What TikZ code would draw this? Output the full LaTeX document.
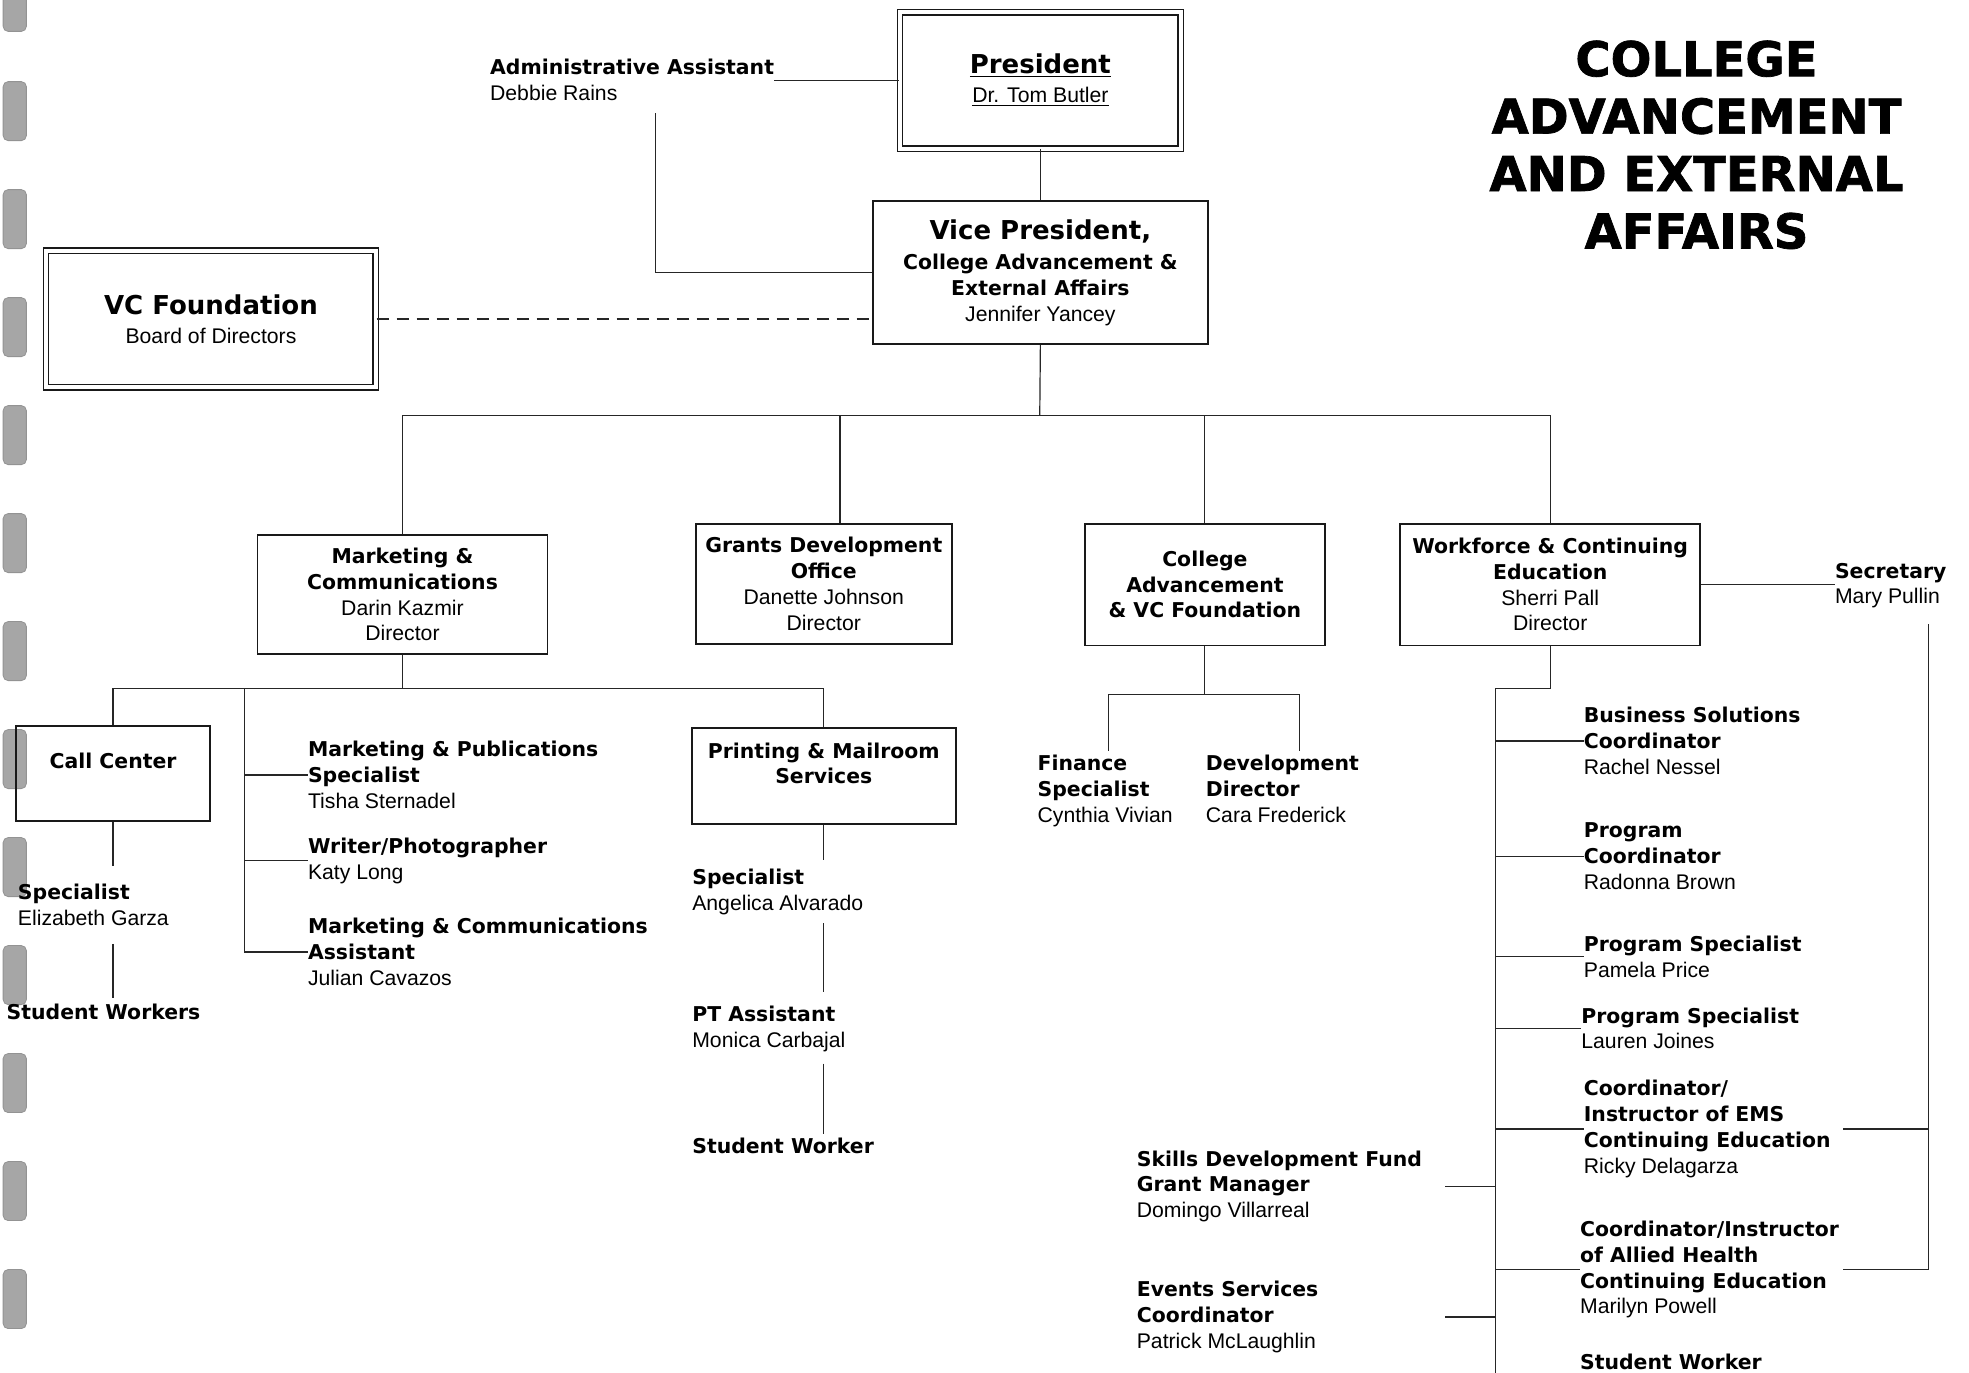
\documentclass[tikz,border=0pt]{standalone}
\usepackage{fontspec}
\setmainfont{Liberation Sans}
\newfontfamily\hdfont{DejaVu Sans}
\newfontfamily\titlefont{DejaVu Sans}[BoldFeatures={FakeBold=1.5}]
\usetikzlibrary{calc}
\newcommand\bl[1]{{\hdfont\bfseries\fontsize{10.2}{12.9}\selectfont #1}}
\newcommand\U{0.62785pt}
\tikzset{
  lbl/.style={inner sep=0pt, anchor=north west, align=left, font=\fontsize{10.6}{12.9}\selectfont},
  box/.style={draw=black!90, line width=0.9pt, inner sep=0pt, align=center, font=\fontsize{10.6}{12.9}\selectfont},
  dbox/.style={box, double, double distance=2pt, line width=0.7pt},
  sz/.style 2 args={minimum width=#1*\U, minimum height=#2*\U},
  conn/.style={draw=black!85, line width=0.6pt},
  hole/.style={fill=gray!70, draw=gray!85, line width=0.4pt, rounded corners=2.5pt},
}
\begin{document}
\begin{tikzpicture}[x=0.62785pt, y=-0.62785pt]
\fill[white] (0,0) rectangle (1568,1093);
\useasboundingbox (0,0) rectangle (1568,1093);

% binder holes
\filldraw[hole] (2.5,-6) rectangle (21,25);
\foreach \k in {0,...,11} {
  \filldraw[hole] (2.5,{65+86*\k}) rectangle (21,{112+86*\k});
}

% title
\node[inner sep=0pt, anchor=north, align=center, font=\titlefont\bfseries\fontsize{24}{28.7}\selectfont] (title) at (1351,32)
  {COLLEGE\\ADVANCEMENT\\AND EXTERNAL\\AFFAIRS};

% boxes
\node[dbox, sz={223.6}{108.6}] (pres) at (828.5,64)
  {\underline{{\hdfont\bfseries\fontsize{13}{12.9}\selectfont President}}\\[1.6pt]\underline{Dr. Tom Butler}};
\node[box, line width=1.1pt, sz={267}{114}] (vp) at (828.5,217)
  {{\hdfont\bfseries\fontsize{13}{12.9}\selectfont Vice President,}\\[2.2pt]\bl{College Advancement \&}\\\bl{External Affairs}\\Jennifer Yancey};
\node[dbox, sz={262.6}{108.6}] (vcf) at (168,254)
  {{\hdfont\bfseries\fontsize{13}{12.9}\selectfont VC Foundation}\\[1.6pt]Board of Directors};
\node[box, sz={231}{95}] (mkt) at (320.5,473.5)
  {\bl{Marketing \&}\\\bl{Communications}\\Darin Kazmir\\Director};
\node[box, sz={204}{96}] (gr) at (656,465)
  {\bl{Grants Development}\\\bl{Office}\\Danette Johnson\\Director};
\node[box, sz={191}{97}] (cav) at (959.5,465.5)
  {\bl{College}\\\bl{Advancement}\\\bl{\& VC Foundation}};
\node[box, sz={239}{97}] (wf) at (1234.5,465.5)
  {\bl{Workforce \& Continuing}\\\bl{Education}\\Sherri Pall\\Director};
\node[box, sz={154}{76}] (cc) at (90,616)
  {\bl{Call Center}\\\mbox{}};
\node[box, sz={210}{76}] (pr) at (656,618)
  {\bl{Printing \& Mailroom}\\\bl{Services}\\\mbox{}};

% text labels
\node[lbl] (admin) at (390,47) {\bl{Administrative Assistant}\\Debbie Rains};
\node[lbl] (mps) at (245,590) {\bl{Marketing \& Publications}\\\bl{Specialist}\\Tisha Sternadel};
\node[lbl] (wp) at (245,667) {\bl{Writer/Photographer}\\Katy Long};
\node[lbl] (mca) at (245,731) {\bl{Marketing \& Communications}\\\bl{Assistant}\\Julian Cavazos};
\node[lbl] (ccs) at (14,704) {\bl{Specialist}\\Elizabeth Garza};
\node[lbl] (ccw) at (5,799) {\bl{Student Workers}};
\node[lbl] (ps) at (551,692) {\bl{Specialist}\\Angelica Alvarado};
\node[lbl] (pta) at (551,801) {\bl{PT Assistant}\\Monica Carbajal};
\node[lbl] (psw) at (551,906) {\bl{Student Worker}};
\node[lbl] (fin) at (826,601) {\bl{Finance}\\\bl{Specialist}\\Cynthia Vivian};
\node[lbl] (dev) at (960,601) {\bl{Development}\\\bl{Director}\\Cara Frederick};
\node[lbl] (sec) at (1461,448) {\bl{Secretary}\\Mary Pullin};
\node[lbl] (bs) at (1261,563) {\bl{Business Solutions}\\\bl{Coordinator}\\Rachel Nessel};
\node[lbl] (pc) at (1261,655) {\bl{Program}\\\bl{Coordinator}\\Radonna Brown};
\node[lbl] (psa) at (1261,745) {\bl{Program Specialist}\\Pamela Price};
\node[lbl] (psb) at (1259,802) {\bl{Program Specialist}\\Lauren Joines};
\node[lbl] (ems) at (1261,860) {\bl{Coordinator/}\\\bl{Instructor of EMS}\\\bl{Continuing Education}\\Ricky Delagarza};
\node[lbl] (ah) at (1258,972) {\bl{Coordinator/Instructor}\\\bl{of Allied Health}\\\bl{Continuing Education}\\Marilyn Powell};
\node[lbl] (wsw) at (1258,1078) {\bl{Student Worker}};
\node[lbl] (sdf) at (905,916) {\bl{Skills Development Fund}\\\bl{Grant Manager}\\Domingo Villarreal};
\node[lbl] (ev) at (905,1020) {\bl{Events Services}\\\bl{Coordinator}\\Patrick McLaughlin};

% top connectors
\draw[conn] (admin.east) -- (admin.east -| pres.west);
\coordinate (adv) at (522,90);
\draw[conn] (adv) |- (vp.west);
\draw[conn, dash pattern=on 6pt off 4pt] (vcf.east) -- (vcf.east -| vp.west);
\draw[conn] (pres.south) -- (vp.north);
\coordinate (bus) at (828,331);
\draw[conn] (vp.south) -- (bus);
\draw[conn] (mkt.north) -- (mkt.north |- bus) -- (wf.north |- bus) -- (wf.north);
\draw[conn] (cav.north) -- (cav.north |- bus);
\coordinate (grx) at (669,0);
\draw[conn] (grx |- gr.north) -- (grx |- bus);

% marketing
\coordinate (mbus) at (195,548);
\draw[conn] (mkt.south) -- (mkt.south |- mbus);
\draw[conn] (cc.north) -- (cc.north |- mbus) -- (pr.north |- mbus) -- (pr.north);
\draw[conn] (mbus) |- (mca.west);
\draw[conn] (mbus |- mps.west) -- (mps.west);
\draw[conn] (mbus |- wp.west) -- (wp.west);

% call center chain
\draw[conn] (cc.south) -- ($(cc.south |- ccs.north)+(0,-14)$);
\draw[conn] ($(cc.south |- ccs.south)+(0,14)$) -- ($(cc.south |- ccw.north)+(0,-4)$);

% printing chain
\draw[conn] (pr.south) -- ($(pr.south |- ps.north)+(0,-7)$);
\draw[conn] ($(pr.south |- ps.south)+(0,6)$) -- ($(pr.south |- pta.north)+(0,-11)$);
\draw[conn] ($(pr.south |- pta.south)+(0,9)$) -- ($(pr.south |- psw.north)+(0,-3)$);

% college advancement
\coordinate (cbl) at (883,553);
\coordinate (cbr) at (1035,553);
\draw[conn] (cav.south) -- (cav.south |- cbl);
\draw[conn] ($(cbl |- fin.north)+(0,-3)$) -- (cbl) -- (cbr) -- ($(cbr |- dev.north)+(0,-3)$);

% workforce
\coordinate (wv) at (1191,548);
\coordinate (wvb) at (1191,1093);
\draw[conn] (wf.south) |- (wv) -- (wvb);
\foreach \n in {bs,pc,psa,psb,ems,ah} {
  \draw[conn] (wv |- \n.west) -- (\n.west);
}
\coordinate (lx) at (1151,0);
\draw[conn] (sdf.east -| lx) -- (sdf.east -| wv);
\draw[conn] (ev.east -| lx) -- (ev.east -| wv);

% secretary
\draw[conn] (wf.east) -- (wf.east -| sec.west);
\coordinate (sv) at (1536,497);
\coordinate (sx) at (1468,0);
\draw[conn] (sv) |- (ah.east -| sx);
\draw[conn] (ems.east -| sx) -- (ems.east -| sv);
\end{tikzpicture}
\end{document}
